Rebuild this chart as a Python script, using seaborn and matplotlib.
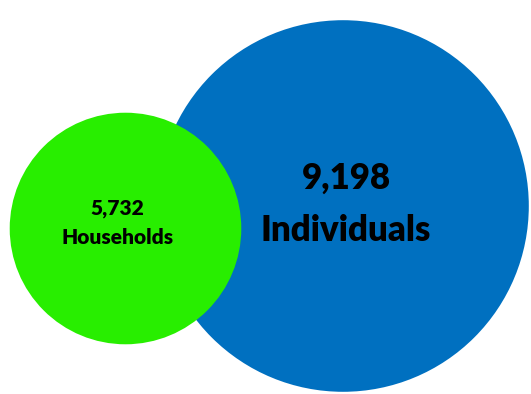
import matplotlib
matplotlib.use("Agg")
import matplotlib.pyplot as plt
from matplotlib.patches import Circle
import seaborn as sns

# Counts shown in the bubbles
labels = ["Households", "Individuals"]
counts = [5732, 9198]
colors = ["#28EE00", "#0070C0"]

# Bubble layout (pixel space) and radius scale: radius grows with the count
centers = [(125.5, 228.5), (343, 206)]
radius_per_unit = 0.0202
label_sizes = [15, 25]
line_gaps = [29, 52]

sns.set_theme(style="white")
plt.rcParams["font.family"] = ["Lato", "DejaVu Sans"]

fig = plt.figure(figsize=(5.31, 3.94), dpi=100)
ax = fig.add_axes([0, 0, 1, 1])
ax.set_xlim(0, 531)
ax.set_ylim(394, 0)
ax.set_aspect("equal")
ax.axis("off")

# Larger bubble first so the smaller one sits on top
order = sorted(range(len(counts)), key=lambda i: -counts[i])
for i in order:
    cx, cy = centers[i]
    ax.add_patch(Circle((cx, cy), counts[i] * radius_per_unit,
                        facecolor=colors[i], edgecolor="none", zorder=1 + (i == 0)))

text_offsets = [(-8, -20), (3, -28)]
for i in range(len(counts)):
    cx, cy = centers[i]
    dx, dy = text_offsets[i]
    tx, ty = cx + dx, cy + dy
    ax.text(tx, ty, f"{counts[i]:,}", ha="center", va="center",
            fontsize=label_sizes[i], fontweight="heavy", color="black", zorder=5)
    ax.text(tx, ty + line_gaps[i], labels[i], ha="center", va="center",
            fontsize=label_sizes[i], fontweight="heavy", color="black", zorder=5)

fig.savefig("out.png", dpi=100, facecolor="white")
